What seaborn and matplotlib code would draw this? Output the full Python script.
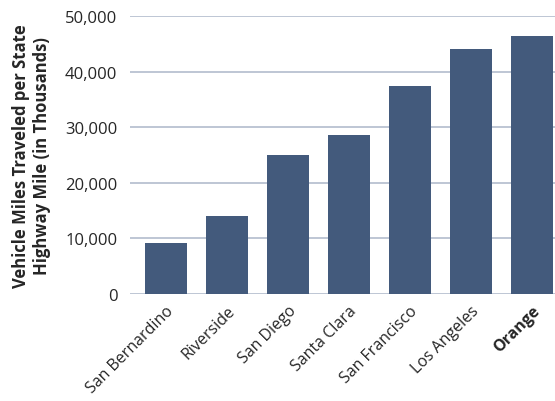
import matplotlib
matplotlib.use("Agg")
import matplotlib.pyplot as plt
import seaborn as sns
import pandas as pd

counties = ["San Bernardino", "Riverside", "San Diego", "Santa Clara",
            "San Francisco", "Los Angeles", "Orange"]
vmt = [9200, 14000, 25000, 28600, 37400, 44100, 46400]

df = pd.DataFrame({"County": counties, "VMT": vmt})

sns.set_style("white")
plt.rcParams["font.family"] = ["Open Sans", "DejaVu Sans"]

fig = plt.figure(figsize=(5.55, 4.02), dpi=100)
ax = fig.add_axes([0.234, 0.266, 0.766, 0.692])

sns.barplot(data=df, x="County", y="VMT", color="#435a7c", saturation=1,
            width=0.69, linewidth=0, ax=ax, zorder=3)

ax.set_ylim(0, 50000)
ax.set_xlim(-0.59, 6.38)
ax.set_yticks(range(0, 50001, 10000))
ax.set_yticklabels([f"{v:,}" for v in range(0, 50001, 10000)], fontsize=12)
ax.yaxis.grid(True, color="#b9c1d1", linewidth=1.3, zorder=0)
ax.set_axisbelow(True)
for s in ax.spines.values():
    s.set_visible(False)
ax.tick_params(axis="x", length=0, pad=6)
ax.tick_params(axis="y", length=0, pad=9)

ax.set_xticks(range(len(counties)))
ax.set_xticklabels(counties, rotation=45, ha="right", rotation_mode="anchor", fontsize=11.5)
ax.get_xticklabels()[-1].set_fontweight("bold")

ax.set_xlabel("")
ax.set_ylabel("Vehicle Miles Traveled per State\nHighway Mile (in Thousands)",
              fontsize=12, fontweight="bold", labelpad=10)

fig.savefig("out.png", dpi=100)
